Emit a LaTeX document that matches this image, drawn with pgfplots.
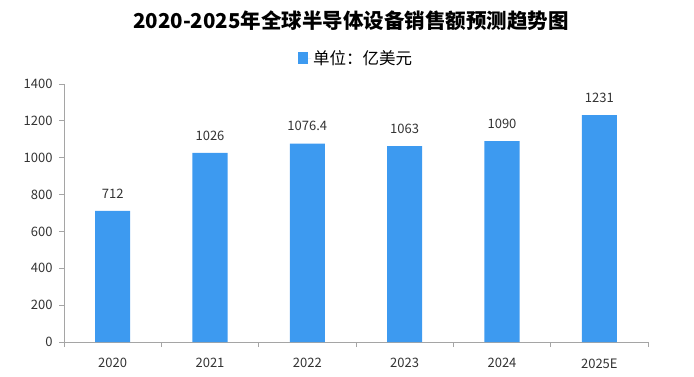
\documentclass[border=0pt]{standalone}
\usepackage{pgfplots}
\pgfplotsset{compat=1.18}
\usepackage{fontspec}
\setmainfont{Noto Sans CJK SC}
\definecolor{barblue}{RGB}{61,154,240}
\definecolor{axgray}{RGB}{165,165,165}
\begin{document}
\begin{tikzpicture}[x=1pt,y=1pt]
\path[use as bounding box] (0,0) rectangle (694,376);
\node[font=\fontsize{20.5}{23}\selectfont\bfseries] at (351,355) {2020-2025年全球半导体设备销售额预测趋势图};
\begin{axis}[
  at={(64pt,34pt)}, anchor=south west,
  scale only axis, width=584pt, height=258pt,
  xmin=-0.5, xmax=5.5, ymin=0, ymax=1400,
  axis lines*=left,
  axis line style={axgray, line width=1pt},
  xtick={0,...,5},
  xticklabels={2020,2021,2022,2023,2024,2025E},
  minor xtick={-0.5,0.5,...,5.5},
  major x tick style={draw=none},
  minor x tick style={axgray, line width=0.8pt},
  minor tick length=5pt,
  ytick={0,200,...,1400},
  y tick style={axgray, line width=0.8pt},
  major tick length=5pt,
  tick align=outside,
  ticklabel style={font=\fontsize{13}{15}\selectfont, text=black!80},
  xticklabel style={yshift=-8pt},
  yticklabel style={xshift=-3pt},
  /pgf/number format/assume math mode=true,
  /pgf/number format/.cd, 1000 sep={}, /pgfplots/.cd,
  ybar, bar width=0.36,
  nodes near coords,
  nodes near coords style={font=\fontsize{13}{15}\selectfont, text=black!80, yshift=9pt},
  point meta=explicit symbolic,
  legend style={at={(0.5,1)}, anchor=south, yshift=16pt, draw=none, font=\fontsize{16.5}{19}\selectfont, legend cell align=left, inner sep=0pt},
  legend image code/.code={\fill[barblue] (0pt,-5.5pt) rectangle (10pt,6pt); \path (0pt,0pt) -- (13pt,0pt);},
]
\addplot[fill=barblue, draw=none] coordinates {
  (0,712) [712]
  (1,1026) [1026]
  (2,1076.4) [1076.4]
  (3,1063) [1063]
  (4,1090) [1090]
  (5,1231) [1231]
};
\addlegendentry{单位：亿美元}
\end{axis}
\end{tikzpicture}
\end{document}
